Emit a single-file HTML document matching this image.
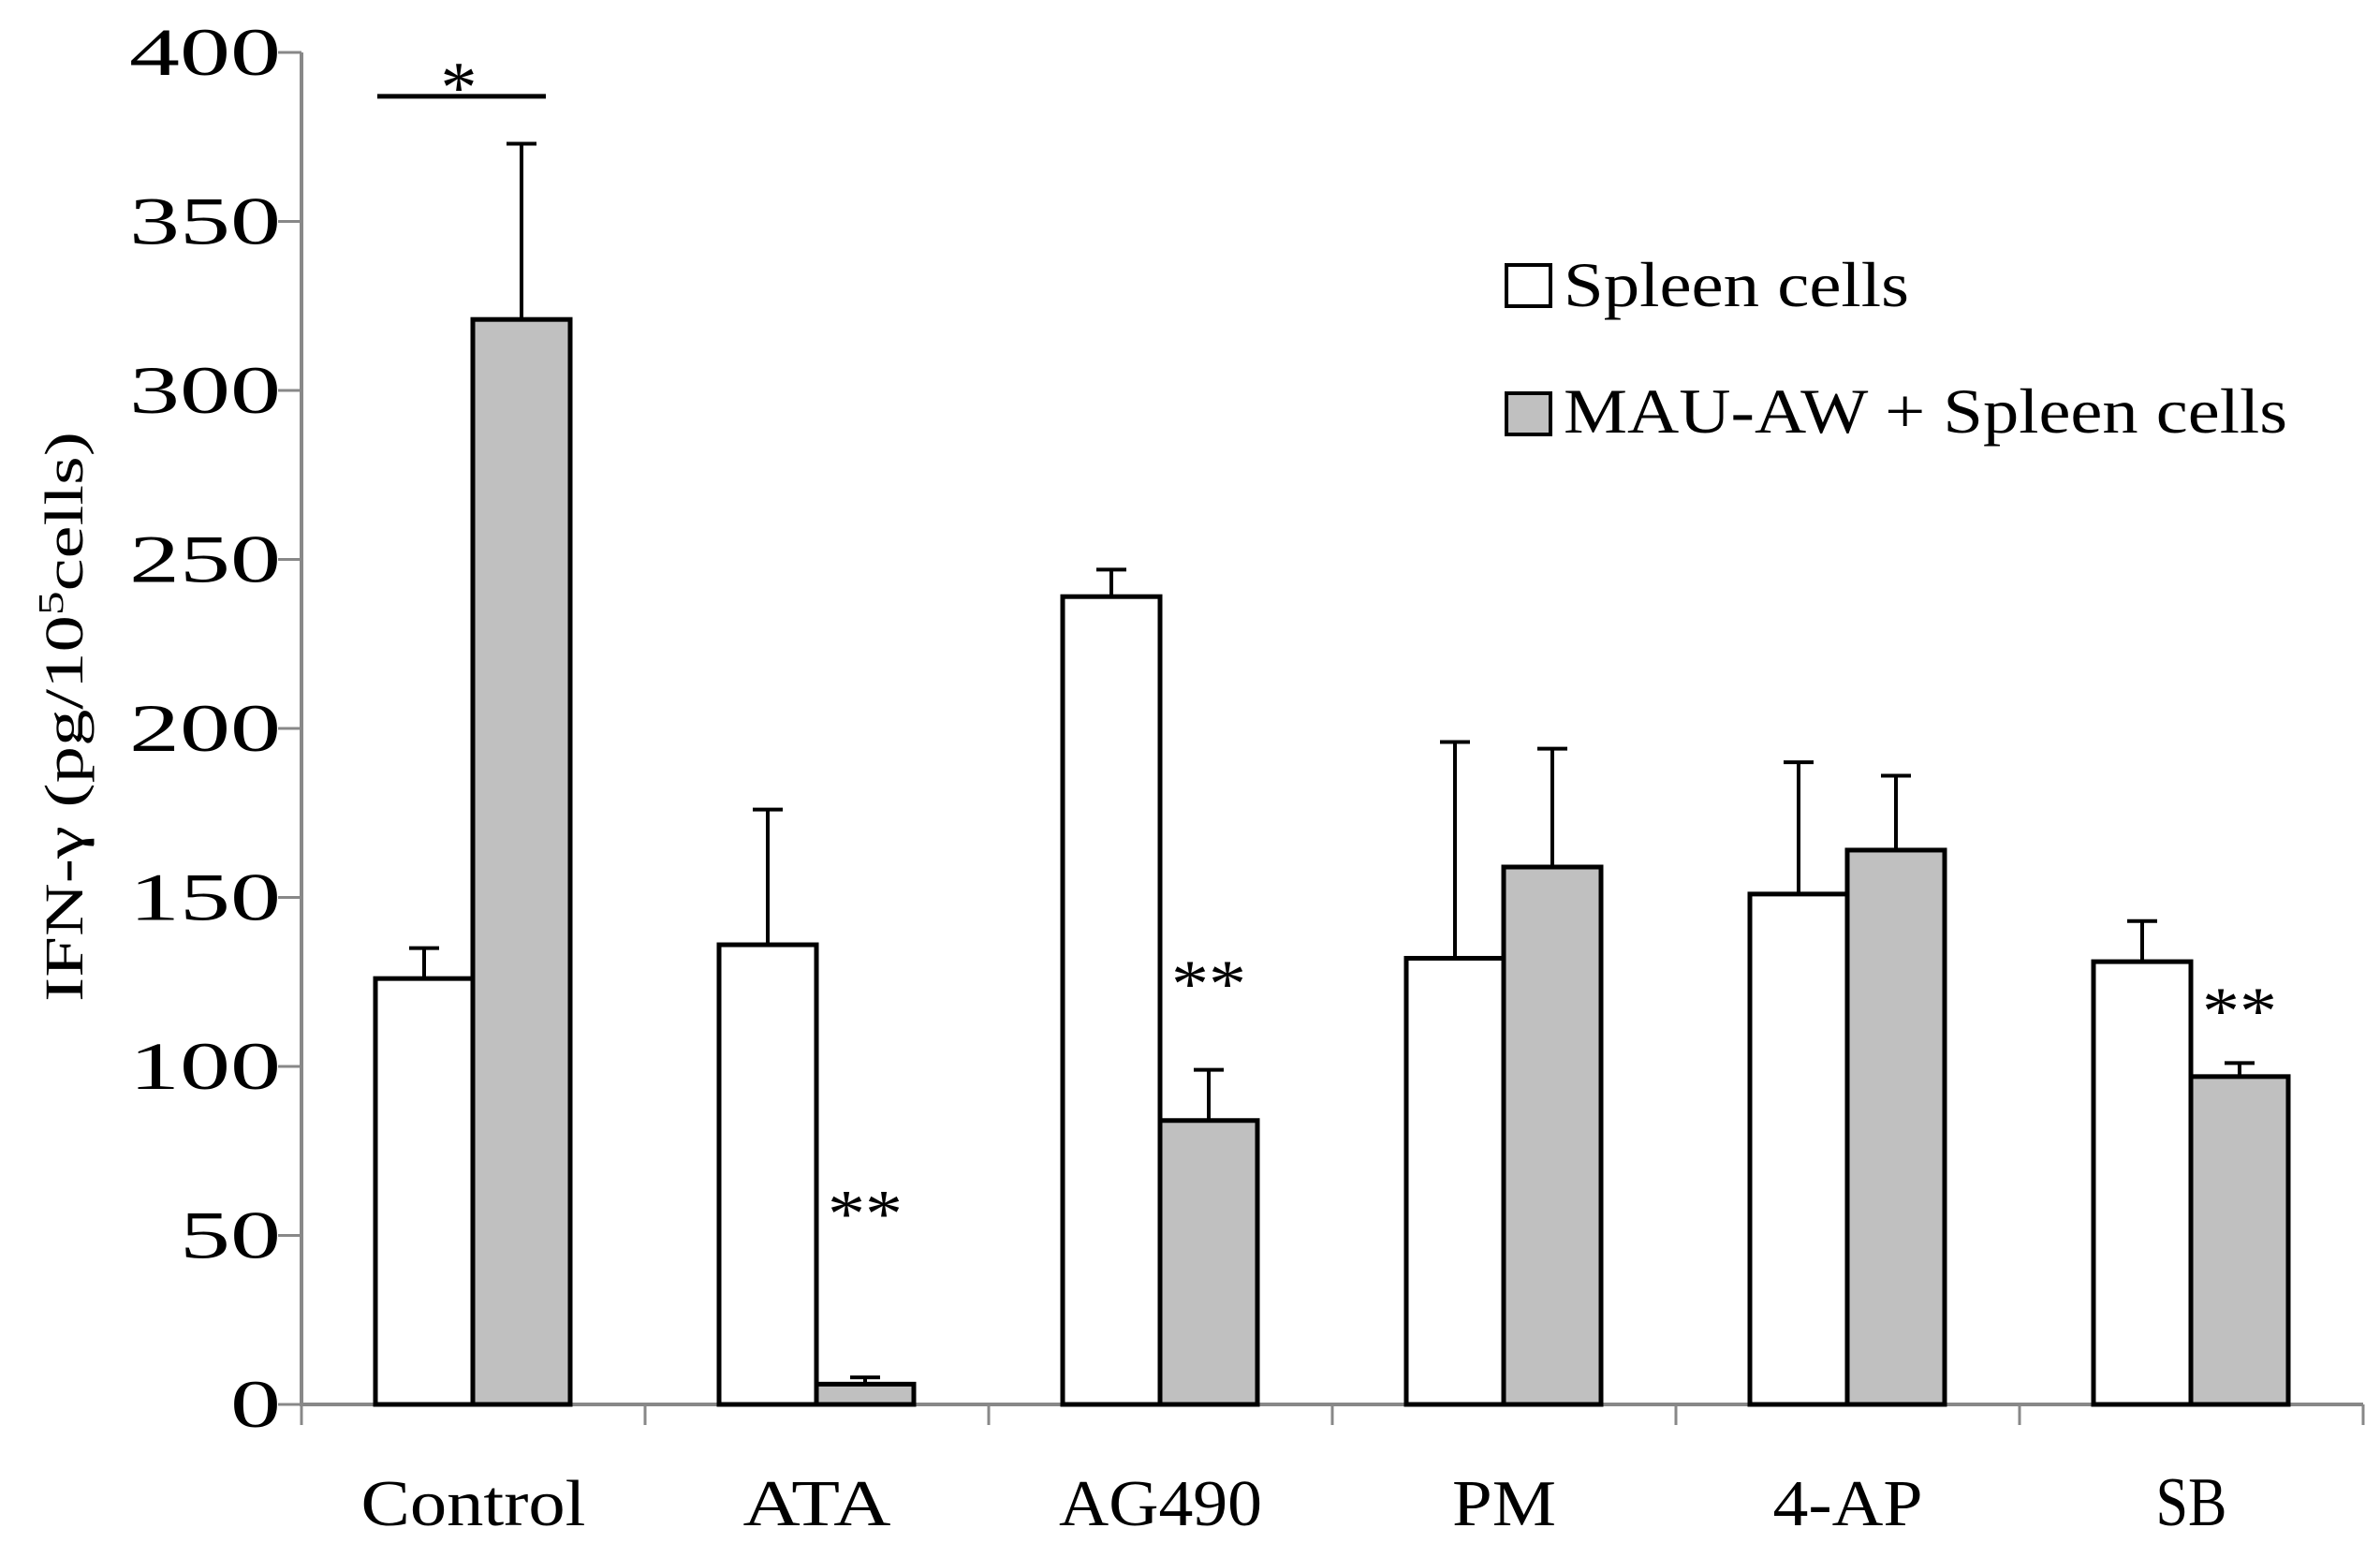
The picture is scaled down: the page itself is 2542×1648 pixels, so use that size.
<!DOCTYPE html>
<html><head><meta charset="utf-8"><style>body{margin:0;background:#fff}svg{display:block}text{font-family:"Liberation Serif",serif;fill:#000}</style></head>
<body>
<svg id="chart" width="2542" height="1648" viewBox="0 0 2542 1648" xmlns="http://www.w3.org/2000/svg"></svg>
<script>
const categories=["Control","ATA","AG490","PM","4-AP","SB"];
const spleenValues=[126,136,239,132,151,131];
const spleenErrors=[9,40,8,64,39,12];
const mauValues=[321,6,84,159,164,97];
const mauErrors=[52,2,15,35,22,4];
const yTicks=[0,50,100,150,200,250,300,350,400];
const sigMarks=["","**","**","","","**"];
const sigLevels=[0,58,126,0,0,118];
const NS="http://www.w3.org/2000/svg";
const svg=document.getElementById('chart');
const X0=322,Y0=1500,Y1=56,CW=367,BW=104,OFF=79;
const catWidths=[240,158,217,111,160,76];
function y(v){return Y0-(v/400)*(Y0-Y1);}
function cx(i){return X0+i*CW;}
function el(t,a,txt){const e=document.createElementNS(NS,t);for(const k in a)e.setAttribute(k,a[k]);if(txt!==undefined)e.textContent=txt;svg.appendChild(e);return e;}
let e=el('line',{x1:X0,y1:Y1,x2:X0,y2:Y0+2,stroke:'#888','stroke-width':4});


e=el('line',{x1:X0,y1:Y0,x2:X0+6*CW,y2:Y0,stroke:'#888','stroke-width':4});


yTicks.forEach(t=>{
 let l=el('line',{x1:X0-25,y1:y(t),x2:X0,y2:y(t),stroke:'#888','stroke-width':3});
 
 
 const s=String(t);
 let tx=el('text',{x:300-s.length*54,y:y(t)+24,'font-size':72,textLength:s.length*54,lengthAdjust:'spacingAndGlyphs'},s);
 
 
});
for(let i=0;i<=6;i++){
 let l=el('line',{x1:cx(i),y1:Y0,x2:cx(i),y2:Y0+22,stroke:'#888','stroke-width':3});
 
 
}
function bar(x,v,err,fill,name){
 let r=el('rect',{x:x,y:y(v),width:BW,height:Y0-y(v),fill:fill,stroke:'#000','stroke-width':5});
 
 
 const mx=x+BW/2;
 let g=el('path',{d:`M${mx} ${y(v)} V${y(v+err)} M${mx-16} ${y(v+err)} H${mx+16}`,stroke:'#000','stroke-width':4,fill:'none'});
 
 
}
categories.forEach((c,i)=>{
 bar(cx(i)+OFF,spleenValues[i],spleenErrors[i],'#fff','bar-spleen-'+c.toLowerCase());
 bar(cx(i)+OFF+BW,mauValues[i],mauErrors[i],'#c0c0c0','bar-mau-'+c.toLowerCase());
 let t=el('text',{x:cx(i)+CW/2-catWidths[i]/2,y:1629,'font-size':i==5?74:70,textLength:catWidths[i],lengthAdjust:'spacingAndGlyphs'},c);
 
 
 if(sigMarks[i]){
  const mx=cx(i)+OFF+BW*1.5;
  let s=el('text',{x:mx-40,y:y(sigLevels[i])+30,'font-size':72,textLength:80,lengthAdjust:'spacingAndGlyphs'},sigMarks[i]);
  
  
 }
});
e=el('line',{x1:403,y1:y(387),x2:583,y2:y(387),stroke:'#000','stroke-width':5});


e=el('text',{x:490,y:y(394)+42,'text-anchor':'middle','font-size':78},'*');


e=el('text',{transform:'translate(88,1070) rotate(-90)','font-size':58,textLength:609,lengthAdjust:'spacingAndGlyphs'});


e.innerHTML='IFN-γ (pg/10<tspan baseline-shift="super" font-size="38">5</tspan>cells)';
[["Spleen cells","#fff",283,327,369],["MAU-AW + Spleen cells","#c0c0c0",420,462,773]].forEach(([lab,f,yy,by,w])=>{
 let r=el('rect',{x:1609,y:yy,width:47,height:44,fill:f,stroke:'#000','stroke-width':4});
 
 
 let t=el('text',{x:1670,y:by,'font-size':68,textLength:w,lengthAdjust:'spacingAndGlyphs'},lab);
 
 
});
</script>
</body></html>
